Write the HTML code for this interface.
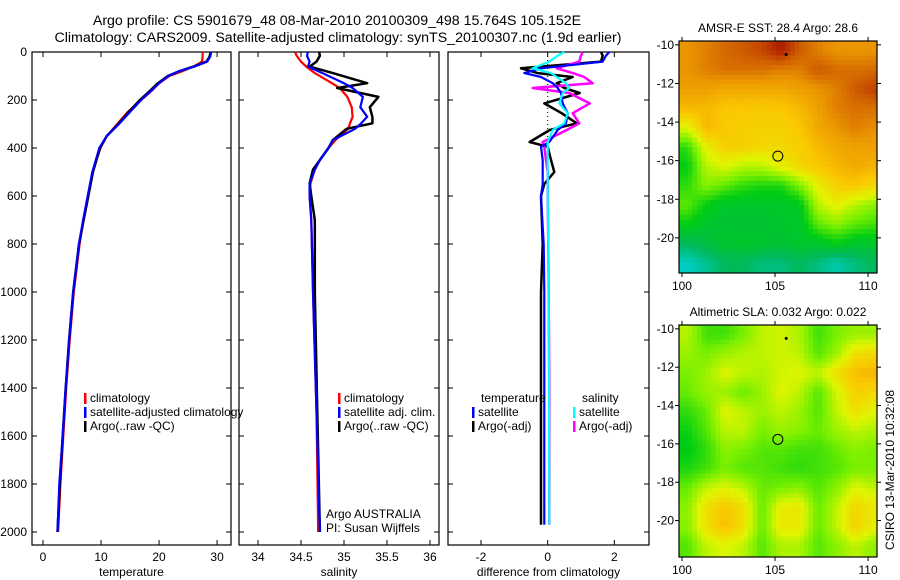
<!DOCTYPE html>
<html><head><meta charset="utf-8"><style>
body{margin:0;background:#fff;}
svg{display:block;font-family:"Liberation Sans",sans-serif;}
</style></head><body>
<svg id="chart" width="900" height="580" viewBox="0 0 900 580">
<text x="337" y="25" font-size="14.2" text-anchor="middle">Argo profile: CS 5901679_48 08-Mar-2010 20100309_498 15.764S 105.152E</text>
<text x="338" y="42" font-size="14.2" text-anchor="middle">Climatology: CARS2009. Satellite-adjusted climatology: synTS_20100307.nc (1.9d earlier)</text>
<g id="panels"></g>
<text x="894" y="470" font-size="12" text-anchor="middle" transform="rotate(-90 894 470)">CSIRO 13-Mar-2010 10:32:08</text>
</svg>
<script>
// ---------- profile data ----------
const tDepth=[0,20,40,60,80,100,130,160,200,250,300,350,400,450,500,600,700,800,900,1000,1200,1400,1600,1800,2000];
const tArgo=[28.9,28.7,28.2,26,23.5,21.5,19.8,18.5,16.7,14.8,13,11,9.8,9.2,8.6,7.8,7,6.2,5.7,5.2,4.5,3.9,3.4,2.9,2.5];
const tClim=[27.5,27.5,27.4,26,24,21.8,20,18.8,16.9,14.6,12.8,11,9.9,9.2,8.6,7.8,7,6.3,5.8,5.3,4.6,4.0,3.5,3.0,2.6];
const tSat=[29,28.8,28.3,26.2,23.4,21.6,20,18.7,16.9,15,13.1,11,9.7,9.1,8.5,7.7,6.9,6.2,5.7,5.2,4.5,3.9,3.4,2.8,2.5];
const sDepth=[0,16,40,61,88,130,150,187,230,270,297,320,367,400,450,490,548,600,700,1000,1500,2000];
const sArgo=[34.71,34.72,34.68,34.60,34.87,35.27,34.92,35.40,35.30,35.33,35.33,35.03,34.87,34.82,34.72,34.64,34.60,34.62,34.66,34.66,34.69,34.72];
const sClim=[34.43,34.45,34.50,34.56,34.66,34.86,34.95,35.04,35.09,35.10,35.07,35.05,34.90,34.82,34.72,34.66,34.61,34.60,34.62,34.64,34.68,34.70];
const sSat=[34.58,34.57,34.60,34.58,34.75,35.00,35.10,35.22,35.19,35.27,35.20,35.13,34.87,34.82,34.72,34.66,34.60,34.60,34.62,34.64,34.68,34.72];
const dDepth=[0,15,40,68,88,104,130,150,171,214,255,297,325,375,395,450,500,550,600,800,1000,1400,1970];
const dTArgo=[1.6,1.65,1.6,-0.8,-0.3,0.75,0.27,0.5,0.96,-0.1,0.42,0.87,0.06,-0.54,0,0.1,0.2,-0.1,-0.2,-0.15,-0.2,-0.2,-0.2];
const dTSat=[1.85,1.75,1.65,-0.2,-0.7,-0.2,0.15,0.3,0.4,0.45,0.6,0.55,0.3,0.05,-0.2,-0.15,-0.15,-0.15,-0.2,-0.12,-0.1,-0.1,-0.1];
const dSArgo=[1.05,1.0,0.95,0.27,0.75,1.1,1.35,-0.45,0.65,1.26,0.75,0.95,0.57,-0.15,-0.1,-0.05,0,0,0,0.02,0.03,0.05,0.05];
const dSSat=[0.5,0.3,0.05,-0.45,0.1,0.27,0.55,0.65,0.45,0.35,0.6,0.5,0.15,0.0,0,0,0,0,0,0.02,0.03,0.04,0.05];
// ---------- map data (normalized colour index 0..1) ----------
const sstLon=[100.3,101.3,102.3,103.3,104.3,105.3,106.3,107.3,108.3,109.3,110.3];
const sstLat=[-10.3,-11.3,-12.3,-13.3,-14.3,-15.3,-16.3,-17.3,-18.3,-19.3,-20.3,-21.3];
const sstVals=[
[0.82,0.85,0.88,0.9,0.92,0.97,0.9,0.85,0.82,0.82,0.82],
[0.82,0.85,0.87,0.87,0.87,0.85,0.85,0.9,0.88,0.87,0.88],
[0.8,0.8,0.78,0.78,0.78,0.78,0.8,0.82,0.85,0.9,0.93],
[0.75,0.75,0.72,0.72,0.72,0.72,0.75,0.8,0.85,0.87,0.87],
[0.6,0.75,0.72,0.7,0.7,0.7,0.72,0.78,0.82,0.85,0.83],
[0.4,0.62,0.7,0.7,0.68,0.68,0.7,0.75,0.78,0.8,0.8],
[0.35,0.55,0.6,0.55,0.55,0.62,0.68,0.72,0.75,0.78,0.76],
[0.4,0.5,0.45,0.4,0.38,0.38,0.48,0.62,0.7,0.72,0.68],
[0.45,0.35,0.3,0.3,0.3,0.3,0.32,0.55,0.62,0.55,0.5],
[0.35,0.3,0.28,0.28,0.28,0.3,0.3,0.45,0.5,0.45,0.42],
[0.2,0.25,0.3,0.3,0.3,0.28,0.3,0.3,0.35,0.3,0.3],
[0.05,0.12,0.2,0.2,0.15,0.15,0.2,0.15,0.08,0.15,0.2]];
const slaLon=[100.3,101.3,102.3,103.3,104.3,105.3,106.3,107.3,108.3,109.3,110.3];
const slaLat=[-10.3,-11.3,-12.3,-13.3,-14.3,-15.3,-16.3,-17.3,-18.3,-19.3,-20.3,-21.3];
const slaVals=[
[0.55,0.42,0.42,0.48,0.56,0.58,0.54,0.42,0.48,0.52,0.52],
[0.52,0.48,0.52,0.55,0.56,0.58,0.56,0.44,0.52,0.66,0.68],
[0.48,0.52,0.6,0.56,0.54,0.58,0.6,0.56,0.66,0.74,0.76],
[0.46,0.52,0.52,0.46,0.52,0.6,0.56,0.44,0.58,0.7,0.68],
[0.4,0.46,0.6,0.56,0.52,0.56,0.52,0.44,0.56,0.66,0.6],
[0.36,0.44,0.56,0.56,0.48,0.52,0.5,0.46,0.52,0.56,0.54],
[0.34,0.4,0.5,0.48,0.44,0.44,0.42,0.42,0.46,0.5,0.48],
[0.38,0.42,0.48,0.44,0.44,0.42,0.4,0.42,0.44,0.48,0.48],
[0.46,0.56,0.6,0.56,0.46,0.48,0.5,0.44,0.5,0.6,0.56],
[0.5,0.66,0.72,0.66,0.46,0.62,0.64,0.46,0.56,0.68,0.64],
[0.5,0.66,0.74,0.66,0.46,0.64,0.64,0.46,0.56,0.7,0.62],
[0.44,0.56,0.6,0.56,0.44,0.54,0.54,0.44,0.5,0.56,0.5]];
const depthTicks=[0,200,400,600,800,1000,1200,1400,1600,1800,2000];
const tempTicks=[0,10,20,30];
const salTicks=[34,34.5,35,35.5,36];
const diffTicks=[-2,0,2];
const lonTicks=[100,105,110];
const sstLatTicks=[-10,-12,-14,-16,-18,-20];
const slaLatTicks=[-10,-12,-14,-16,-18,-20];

const NS='http://www.w3.org/2000/svg';
const root=document.getElementById('panels');
function mk(tag,attrs,parent,txt){const e=document.createElementNS(NS,tag);for(const k in attrs)e.setAttribute(k,attrs[k]);if(txt!==undefined)e.textContent=txt;(parent||root).appendChild(e);return e;}
const depthY=d=>52+d*0.24;
function panel(name,x0,x1,xmin,xmax,ticks,label,yLabels){
  const g=mk('g',{});
  
  
  const sx=v=>x0+(v-xmin)/(xmax-xmin)*(x1-x0);
  const fr=mk('rect',{x:x0,y:52,width:x1-x0,height:493,fill:'none',stroke:'#000','stroke-width':1.2},g);
  
  
  ticks.forEach(t=>{const x=sx(t);
    mk('line',{x1:x,x2:x,y1:545,y2:540,stroke:'#000'},g);mk('line',{x1:x,x2:x,y1:52,y2:57,stroke:'#000'},g);
    const tl=mk('text',{x:x,y:561,'font-size':12,'text-anchor':'middle'},g,String(t));
    
    });
  depthTicks.forEach(d=>{const y=depthY(d);
    mk('line',{x1:x0,x2:x0+5,y1:y,y2:y,stroke:'#000'},g);mk('line',{x1:x1,x2:x1-5,y1:y,y2:y,stroke:'#000'},g);
    if(yLabels){const tl=mk('text',{x:x0-5,y:y+4,'font-size':12,'text-anchor':'end'},g,String(d));
      
      }});
  const al=mk('text',{x:(x0+x1)/2,y:576,'font-size':12,'text-anchor':'middle'},g,label);
  
  
  return {g,sx};
}
function line(p,depths,vals,color,w,name){
  const pts=depths.map((d,i)=>p.sx(vals[i]).toFixed(1)+','+depthY(d).toFixed(1)).join(' ');
  const l=mk('polyline',{points:pts,fill:'none',stroke:color,'stroke-width':w,'stroke-linejoin':'round'},p.g);
  
  
}
function legend(p,x,y,color,text,name){
  mk('rect',{x:x,y:y-9,width:2.5,height:11,fill:color},p.g);
  const t=mk('text',{x:x+6,y:y,'font-size':12},p.g,text);
  
  
}
// temperature
const p1=panel('temperature-panel',32,231,-1.9,32.4,tempTicks,'temperature',true);
line(p1,tDepth,tClim,'#f00',2.2,'temp-climatology-line');
line(p1,tDepth,tArgo,'#000',2.5,'temp-argo-line');
line(p1,tDepth,tSat,'#00f',2.2,'temp-satellite-line');
legend(p1,84,402,'#f00','climatology','legend-climatology');
legend(p1,84,416,'#00f','satellite-adjusted climatology','legend-satellite-adjusted');
legend(p1,84,430,'#000','Argo(..raw -QC)','legend-argo');
// salinity
const p2=panel('salinity-panel',239,439,33.779,36.105,salTicks,'salinity',false);
line(p2,sDepth,sClim,'#f00',2.2,'sal-climatology-line');
line(p2,sDepth,sArgo,'#000',2.5,'sal-argo-line');
line(p2,sDepth,sSat,'#00f',2.2,'sal-satellite-line');
legend(p2,338,402,'#f00','climatology','legend-sal-climatology');
legend(p2,338,416,'#00f','satellite adj. clim.','legend-sal-satellite');
legend(p2,338,430,'#000','Argo(..raw -QC)','legend-sal-argo');
const a1=mk('text',{x:326,y:518,'font-size':12},p2.g,'Argo AUSTRALIA');
const a2=mk('text',{x:326,y:532,'font-size':12},p2.g,'PI: Susan Wijffels');
// diff
const p3=panel('difference-panel',448,649,-2.99,3.04,diffTicks,'difference from climatology',false);
mk('line',{x1:p3.sx(0),x2:p3.sx(0),y1:52,y2:depthY(400),stroke:'#000','stroke-dasharray':'1,3'},p3.g);
line(p3,dDepth,dTArgo,'#000',2.5,'diff-temp-argo-line');
line(p3,dDepth,dSArgo,'#f0f',2.5,'diff-sal-argo-line');
line(p3,dDepth,dTSat,'#00f',2.2,'diff-temp-satellite-line');
line(p3,dDepth,dSSat,'#0ff',2.2,'diff-sal-satellite-line');
const lt=mk('text',{x:481,y:402,'font-size':12},p3.g,'temperature');
const ls=mk('text',{x:582,y:402,'font-size':12},p3.g,'salinity');
legend(p3,472,416,'#00f','satellite','legend-temp-satellite');
legend(p3,472,430,'#000','Argo(-adj)','legend-temp-argo');
legend(p3,573,416,'#0ff','satellite','legend-sal-satellite-diff');
legend(p3,573,430,'#f0f','Argo(-adj)','legend-sal-argo-diff');

// ---------- maps ----------
const stops=[[0,[0,210,230]],[0.2,[0,185,90]],[0.35,[0,205,20]],[0.48,[120,240,0]],[0.6,[225,245,0]],[0.72,[250,200,0]],[0.82,[235,150,0]],[0.9,[205,90,0]],[1,[160,0,0]]];
function cmap(v){for(let i=1;i<stops.length;i++){if(v<=stops[i][0]){const a=stops[i-1],b=stops[i],f=(v-a[0])/(b[0]-a[0]);
  return 'rgb('+a[1].map((c,k)=>Math.round(c+(b[1][k]-c)*f)).join(',')+')';}}return 'rgb(160,0,0)';}
function map(name,top,bottom,latTop,latBot,lons,lats,vals,latTicks,title){
  const g=mk('g',{});
  
  
  const x0=679,x1=877,lonL=99.84,lonR=110.48;
  const sx=v=>x0+(v-lonL)/(lonR-lonL)*(x1-x0);
  const sy=v=>top+(latTop-v)/(latTop-latBot)*(bottom-top);
  const clip='clip-'+name;
  const cp=mk('clipPath',{id:clip},g);mk('rect',{x:x0,y:top,width:x1-x0,height:bottom-top},cp);
  const cells=mk('g',{'clip-path':'url(#'+clip+')'},g);
  const sub=4;
  for(let r=-1;r<lats.length;r++)for(let c=-1;c<lons.length;c++){
    for(let a=0;a<sub;a++)for(let b=0;b<sub;b++){
      const fr=(a+0.5)/sub,fc=(b+0.5)/sub;
      const R0=Math.max(0,r),R1=Math.min(lats.length-1,r+1),C0=Math.max(0,c),C1=Math.min(lons.length-1,c+1);
      const v=(vals[R0][C0]*(1-fc)+vals[R0][C1]*fc)*(1-fr)+(vals[R1][C0]*(1-fc)+vals[R1][C1]*fc)*fr;
      const la0=lats[R0]+(r<0?1:0),la1=lats[R1]-(r+1>=lats.length?1:0);
      const lo0=lons[C0]-(c<0?1:0),lo1=lons[C1]+(c+1>=lons.length?1:0);
      const latA=la0+(la1-la0)*a/sub,latB=la0+(la1-la0)*(a+1)/sub;
      const lonA=lo0+(lo1-lo0)*b/sub,lonB=lo0+(lo1-lo0)*(b+1)/sub;
      mk('rect',{x:sx(lonA).toFixed(1),y:sy(latA).toFixed(1),width:(sx(lonB)-sx(lonA)+0.6).toFixed(1),height:(sy(latB)-sy(latA)+0.6).toFixed(1),fill:cmap(v)},cells);
    }}
  const fr=mk('rect',{x:x0,y:top,width:x1-x0,height:bottom-top,fill:'none',stroke:'#000','stroke-width':1.2},g);
  
  
  lonTicks.forEach(t=>{const x=sx(t);mk('line',{x1:x,x2:x,y1:top,y2:top-4,stroke:'#000'},g);mk('line',{x1:x,x2:x,y1:bottom,y2:bottom+4,stroke:'#000'},g);
    const tl=mk('text',{x:x,y:bottom+17,'font-size':12,'text-anchor':'middle'},g,String(t));
    
    });
  latTicks.forEach(t=>{const y=sy(t);mk('line',{x1:x0,x2:x0-4,y1:y,y2:y,stroke:'#000'},g);mk('line',{x1:x1,x2:x1+4,y1:y,y2:y,stroke:'#000'},g);
    const tl=mk('text',{x:x0-5,y:y+4,'font-size':12,'text-anchor':'end'},g,String(t));
    
    });
  const ti=mk('text',{x:(x0+x1)/2,y:top-9,'font-size':12,'text-anchor':'middle'},g,title);
  
  
  const ci=mk('circle',{cx:sx(105.152),cy:sy(-15.764),r:5,fill:'none',stroke:'#000','stroke-width':1},g);
  
  
  mk('circle',{cx:sx(105.6),cy:sy(-10.5),r:1.5,fill:'#000'},g);
}
map('sst-map',41,273,-9.8,-21.82,sstLon,sstLat,sstVals,sstLatTicks,'AMSR-E SST: 28.4 Argo: 28.6');
map('sla-map',325,557,-9.8,-21.9,slaLon,slaLat,slaVals,slaLatTicks,'Altimetric SLA: 0.032 Argo: 0.022');
</script>
</body></html>
